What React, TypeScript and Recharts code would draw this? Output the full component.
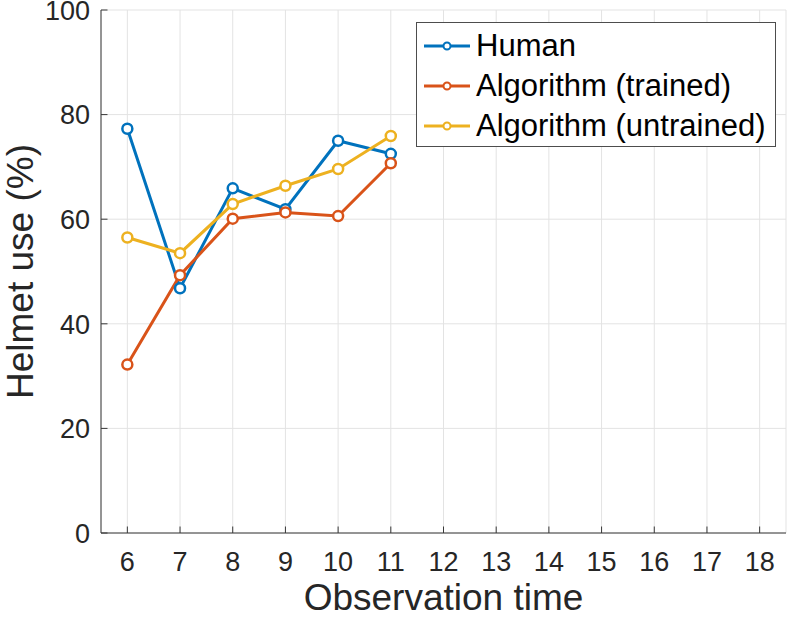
import React from "react";
import { LineChart, Line, XAxis, YAxis, CartesianGrid, Label } from "recharts";

// observation times that have data
const times = [6, 7, 8, 9, 10, 11];
const human = [77.3, 46.8, 65.9, 61.9, 75.0, 72.5];
const algoTrained = [32.2, 49.3, 60.1, 61.3, 60.6, 70.7];
const algoUntrained = [56.5, 53.5, 62.9, 66.4, 69.6, 75.9];

const xTicks = [6, 7, 8, 9, 10, 11, 12, 13, 14, 15, 16, 17, 18];
const yTicks = [0, 20, 40, 60, 80, 100];

const seriesNames = ["Human", "Algorithm (trained)", "Algorithm (untrained)"];
const seriesKeys = ["human", "trained", "untrained"];
const seriesColors = ["#0072BD", "#D95319", "#EDB120"];

const data = times.map((t, i) => ({
  t,
  human: human[i],
  trained: algoTrained[i],
  untrained: algoUntrained[i],
}));

const FONT = "'Liberation Sans', Arial, Helvetica, sans-serif";
const AXIS = "#383838";
const TICK_LEN = 6.5;

const BottomTick = (props: any) => {
  const { x, y, payload } = props;
  return (
    <g>
      <line x1={x} x2={x} y1={y} y2={y - TICK_LEN} stroke={AXIS} strokeWidth={1} />
      <text x={x} y={y + 38} textAnchor="middle" fontSize={27} fontFamily={FONT} fill="#262626">
        {payload.value}
      </text>
    </g>
  );
};

const TopTick = (props: any) => {
  const { x, y } = props;
  return <line x1={x} x2={x} y1={y} y2={y + TICK_LEN} stroke={AXIS} strokeWidth={1} />;
};

const LeftTick = (props: any) => {
  const { x, y, payload } = props;
  return (
    <g>
      <line x1={x} x2={x + TICK_LEN} y1={y} y2={y} stroke={AXIS} strokeWidth={1} />
      <text x={x - 11} y={y} dy="0.36em" textAnchor="end" fontSize={27} fontFamily={FONT} fill="#262626">
        {payload.value}
      </text>
    </g>
  );
};

const RightTick = (props: any) => {
  const { x, y } = props;
  return <line x1={x} x2={x - TICK_LEN} y1={y} y2={y} stroke={AXIS} strokeWidth={1} />;
};

const LegendBox = () => (
  <div
    style={{
      position: "absolute",
      left: 416,
      top: 22,
      width: 360,
      height: 125,
      boxSizing: "border-box",
      border: "1px solid #4d4d4d",
      background: "#fff",
      fontFamily: FONT,
      fontSize: 31,
      color: "#000",
    }}
  >
    {seriesNames.map((name, i) => (
      <div
        key={name}
        style={{
          position: "absolute",
          left: 6,
          top: 3 + i * 40,
          height: 40,
          display: "flex",
          alignItems: "center",
          whiteSpace: "nowrap",
          lineHeight: "40px",
        }}
      >
        <svg width={53} height={20}>
          <line x1={1} x2={47} y1={10} y2={10} stroke={seriesColors[i]} strokeWidth={3} />
          <circle cx={24} cy={10} r={3.5} fill="#fff" stroke={seriesColors[i]} strokeWidth={2} />
        </svg>
        <span>{name}</span>
      </div>
    ))}
  </div>
);

export default function App() {
  return (
    <div style={{ position: "relative", width: 789, height: 617 }}>
      <style>{"body{margin:0;background:#fff}"}</style>
      <LineChart width={789} height={617} data={data} margin={{ top: 10, right: 3, bottom: 0, left: 0 }}>
        <CartesianGrid stroke="#e3e3e3" strokeWidth={1} />
        <XAxis
          dataKey="t"
          type="number"
          domain={[5.5, 18.5]}
          ticks={xTicks}
          height={84}
          tickSize={0}
          tickMargin={0}
          tickLine={false}
          tick={BottomTick}
          axisLine={{ stroke: AXIS, strokeWidth: 1 }}
          interval={0}
        >
          <Label
            content={(p: any) => (
              <text
                x={p.viewBox.x + p.viewBox.width / 2}
                y={610}
                textAnchor="middle"
                fontSize={37}
                fontFamily={FONT}
                fill="#262626"
              >
                Observation time
              </text>
            )}
          />
        </XAxis>
        <XAxis
          xAxisId="top"
          orientation="top"
          dataKey="t"
          type="number"
          domain={[5.5, 18.5]}
          ticks={xTicks}
          height={0}
          tickSize={0}
          tickMargin={0}
          tickLine={false}
          tick={TopTick}
          axisLine={{ stroke: AXIS, strokeWidth: 1 }}
          interval={0}
        />
        <YAxis
          type="number"
          domain={[0, 100]}
          ticks={yTicks}
          width={101}
          tickSize={0}
          tickMargin={0}
          tickLine={false}
          tick={LeftTick}
          axisLine={{ stroke: AXIS, strokeWidth: 1 }}
          interval={0}
        >
          <Label
            content={(p: any) => {
              const cy = p.viewBox.y + p.viewBox.height / 2;
              return (
                <text
                  x={33}
                  y={cy}
                  transform={`rotate(-90 33 ${cy})`}
                  textAnchor="middle"
                  fontSize={37}
                  fontFamily={FONT}
                  fill="#262626"
                >
                  Helmet use (%)
                </text>
              );
            }}
          />
        </YAxis>
        <YAxis
          yAxisId="right"
          orientation="right"
          type="number"
          domain={[0, 100]}
          ticks={yTicks}
          width={0}
          tickSize={0}
          tickMargin={0}
          tickLine={false}
          tick={RightTick}
          axisLine={{ stroke: AXIS, strokeWidth: 1 }}
          interval={0}
        />
        {seriesKeys.map((k, i) => (
          <Line
            key={k}
            dataKey={k}
            name={seriesNames[i]}
            type="linear"
            stroke={seriesColors[i]}
            strokeWidth={3}
            dot={{ r: 5, strokeWidth: 2.5, fill: "#fff", stroke: seriesColors[i] }}
            activeDot={false}
            isAnimationActive={false}
          />
        ))}
      </LineChart>
      <LegendBox />
    </div>
  );
}
